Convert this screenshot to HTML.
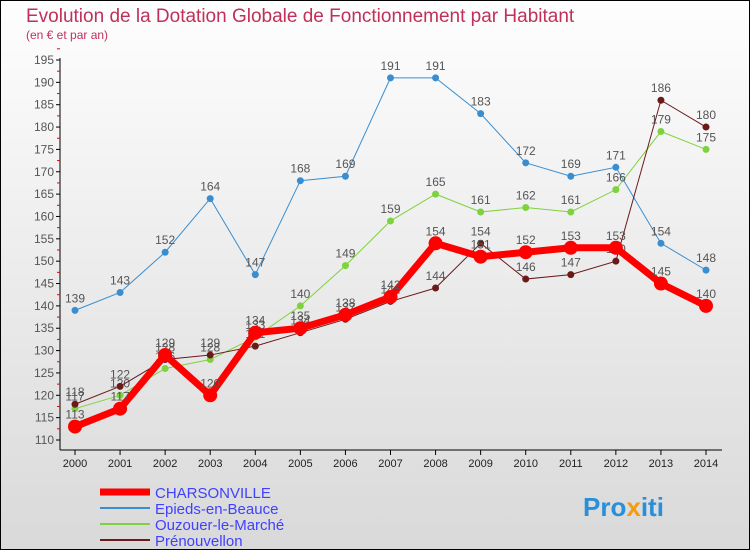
<!DOCTYPE html>
<html><head><meta charset="utf-8"><style>
body{margin:0;width:750px;height:550px;overflow:hidden;font-family:"Liberation Sans",sans-serif}
</style></head><body>
<svg id="c" width="750" height="550" xmlns="http://www.w3.org/2000/svg">
<defs><linearGradient id="bg" x1="0" y1="0" x2="0" y2="1"><stop offset="0" stop-color="#fefefe"/><stop offset="1" stop-color="#d9d9d9"/></linearGradient></defs>
<rect x="0.5" y="0.5" width="749" height="549" fill="url(#bg)" stroke="#000"/>
<text x="26" y="22" font-size="19" fill="#c0305a">Evolution de la Dotation Globale de Fonctionnement par Habitant</text>
<text x="26" y="39" font-size="12" fill="#c0305a">(en € et par an)</text>
<g id="axes"></g><g id="series"></g><g id="legend"></g>
<text x="583" y="516" font-size="26" font-weight="bold" fill="#2a8fd8">Pro<tspan fill="#f39c12">x</tspan>iti</text>
</svg>
<script>
const years=[2000,2001,2002,2003,2004,2005,2006,2007,2008,2009,2010,2011,2012,2013,2014];
const yTicks=[110,115,120,125,130,135,140,145,150,155,160,165,170,175,180,185,190,195];
const charsonville=[113,117,129,120,134,135,138,142,154,151,152,153,153,145,140];
const epieds=[139,143,152,164,147,168,169,191,191,183,172,169,171,154,148];
const ouzouer=[117,120,126,128,133,140,149,159,165,161,162,161,166,179,175];
const prenouvellon=[118,122,128,129,131,134,137,141,144,154,146,147,150,186,180];
const NS="http://www.w3.org/2000/svg";
const X=i=>75+i*(706-75)/(years.length-1);
const Y=v=>440-(v-110)*(380/85);
function mk(t,a,p){const e=document.createElementNS(NS,t);for(const k in a)e.setAttribute(k,a[k]);p.appendChild(e);return e;}
const ax=document.getElementById('axes');
const yl=mk('line',{x1:60,y1:58,x2:60,y2:450,stroke:'#000'},ax);


const xl=mk('line',{x1:60,y1:450,x2:722,y2:450,stroke:'#000'},ax);


yTicks.forEach(v=>{
 mk('line',{x1:56,y1:Y(v),x2:60,y2:Y(v),stroke:'#000'},ax);
 mk('line',{x1:57,y1:Y(v+2.5),x2:60,y2:Y(v+2.5),stroke:'#e00'},ax);
 const t=mk('text',{x:54,y:Y(v)+4,'font-size':12,'text-anchor':'end',fill:'#555'},ax);t.textContent=v;
 
 
});
years.forEach((y,i)=>{
 mk('line',{x1:X(i),y1:450,x2:X(i),y2:455,stroke:'#000'},ax);
 const t=mk('text',{x:X(i),y:467,'font-size':11,'text-anchor':'middle',fill:'#222'},ax);t.textContent=y;
 
 
});
const S=[
 {n:'Epieds-en-Beauce',d:epieds,c:'#3a8ed0',w:1,r:3.5},
 {n:'Ouzouer-le-Marché',d:ouzouer,c:'#7ed23e',w:1,r:3.5},
 {n:'Prénouvellon',d:prenouvellon,c:'#6b1a1a',w:1,r:3.5},
 {n:'CHARSONVILLE',d:charsonville,c:'#ff0000',w:7,r:7}];
const sg=document.getElementById('series');
S.forEach(s=>{
 const g=mk('g',{},sg);
 
 
 mk('polyline',{points:s.d.map((v,i)=>X(i)+','+Y(v)).join(' '),fill:'none',stroke:s.c,'stroke-width':s.w},g);
 s.d.forEach((v,i)=>{
  const c=mk('circle',{cx:X(i),cy:Y(v),r:s.r,fill:s.c},g);
  
  
  const t=mk('text',{x:X(i),y:Y(v)-8,'font-size':12,'text-anchor':'middle',fill:'#555'},g);t.textContent=v;
 });
});
const lg=document.getElementById('legend');
const order=[S[3],S[0],S[1],S[2]];
order.forEach((s,k)=>{
 const y=492+k*16;
 const g=mk('g',{},lg);
 
 
 mk('line',{x1:100,y1:y,x2:150,y2:y,stroke:s.c,'stroke-width':k==0?7:2},g);
 const t=mk('text',{x:155,y:y+6,'font-size':15,fill:'#4040ff'},g);t.textContent=s.n;
});
</script>
</body></html>
